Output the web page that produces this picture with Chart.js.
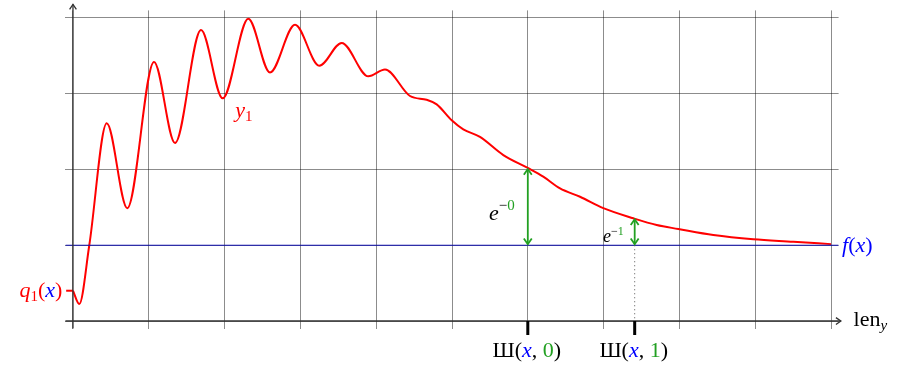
<!DOCTYPE html>
<html>
<head>
<meta charset="utf-8">
<script src="https://cdn.jsdelivr.net/npm/chart.js@4.4.1/dist/chart.umd.min.js"></script>
<style>
    html, body { margin: 0; padding: 0; background: #fff; }
    #wrap { width: 901px; height: 369px; position: relative; }
</style>
</head>
<body>
<div id="wrap"><canvas id="chart"></canvas></div>
<script>
// ════════════════════════════════════════
// DATA
// ════════════════════════════════════════

const xTicks = [0, 1, 2, 3, 4, 5, 6, 7, 8, 9, 10];
const yTicks = [0, 1, 2, 3, 4];

// y1 curve (red)
const curveX = [0, 0.083, 0.215, 0.445, 0.716, 1.069, 1.346,
    1.689, 1.975, 2.313, 2.599, 2.929, 3.249, 3.545, 3.896, 4.116, 4.446,
    4.666, 4.798, 4.996, 5.149, 5.369, 5.677, 5.999, 6.204, 6.425, 6.689,
    6.996, 7.392, 7.700, 7.985, 8.447, 8.975, 9.503, 10];
const curveY = [0.40, 0.224, 1.00, 2.61, 1.49, 3.42, 2.35,
    3.84, 2.94, 3.99, 3.28, 3.91, 3.37, 3.67, 3.23, 3.32, 2.97,
    2.92, 2.86, 2.65, 2.53, 2.43, 2.19, 2.02, 1.905, 1.75, 1.64,
    1.49, 1.356, 1.267, 1.215, 1.135, 1.079, 1.047, 1.015];

// f(x) level (blue)
const levelX = [-0.1, 10.1];
const levelY = [1, 1];

// q1(x) tick on the y axis
const qTickX = [-0.09, 0];
const qTickY = [0.40, 0.40];

// Ш(x, k) marks and the e^-k gaps
const markX = [6, 7.41];
const gapTop = [2.02, 1.356];

// ════════════════════════════════════════
// HELPERS
// ════════════════════════════════════════

const SERIF = '"Liberation Serif", "DejaVu Serif", serif';
const RED = '#ff0000';
const BLUE = '#0000ff';
const GREEN = '#22a022';
const BLACK = '#000000';

const pts = (xs, ys) => xs.map((x, i) => ({ x, y: ys[i] }));

function drawRuns(ctx, runs, x, y, align) {
    let w = 0;
    runs.forEach(r => {
        ctx.font = r.font;
        r.w = ctx.measureText(r.t).width;
        w += r.w;
    });
    let cx = align === 'center' ? x - w / 2 : align === 'right' ? x - w : x;
    runs.forEach(r => {
        ctx.font = r.font;
        ctx.fillStyle = r.color;
        ctx.fillText(r.t, cx, y + (r.dy || 0));
        cx += r.w;
    });
}

// open "to" style arrow head, tip at (x, y), pointing along angle a
function arrowHead(ctx, x, y, a, size) {
    ctx.beginPath();
    ctx.moveTo(x - size * Math.cos(a - 0.6), y - size * Math.sin(a - 0.6));
    ctx.lineTo(x, y);
    ctx.lineTo(x - size * Math.cos(a + 0.6), y - size * Math.sin(a + 0.6));
    ctx.stroke();
}

const decorations = {
    id: 'decorations',
    afterDatasetsDraw(chart) {
        const ctx = chart.ctx;
        const xs = chart.scales.x, ys = chart.scales.y;
        const px = v => xs.getPixelForValue(v);
        const py = v => ys.getPixelForValue(v);
        ctx.save();
        ctx.lineCap = 'butt';

        // axes with arrows
        ctx.strokeStyle = '#333';
        ctx.lineWidth = 1.3;
        ctx.beginPath();
        ctx.moveTo(px(-0.1), py(0));
        ctx.lineTo(px(10.13), py(0));
        ctx.moveTo(px(0), py(-0.1));
        ctx.lineTo(px(0), py(4.18));
        ctx.stroke();
        arrowHead(ctx, px(10.13), py(0), 0, 6);
        arrowHead(ctx, px(0), py(4.18), -Math.PI / 2, 6);

        // dotted drop line under the second mark
        ctx.strokeStyle = '#555';
        ctx.lineWidth = 1;
        ctx.setLineDash([1, 3]);
        ctx.beginPath();
        ctx.moveTo(px(markX[1]), py(1));
        ctx.lineTo(px(markX[1]), py(0));
        ctx.stroke();
        ctx.setLineDash([]);

        // Ш ticks below the axis
        ctx.strokeStyle = BLACK;
        ctx.lineWidth = 3;
        markX.forEach(m => {
            ctx.beginPath();
            ctx.moveTo(px(m), py(0));
            ctx.lineTo(px(m), py(0) + 14);
            ctx.stroke();
        });

        // green double arrows
        ctx.strokeStyle = GREEN;
        ctx.lineWidth = 1.8;
        markX.forEach((m, i) => {
            const x = px(m), y0 = py(1), y1 = py(gapTop[i]);
            ctx.beginPath();
            ctx.moveTo(x, y0 - 1);
            ctx.lineTo(x, y1 + 1);
            ctx.stroke();
            arrowHead(ctx, x, y0 - 1, Math.PI / 2, 7);
            arrowHead(ctx, x, y1 + 1, -Math.PI / 2, 7);
        });

        // labels
        ctx.textBaseline = 'alphabetic';
        const IT = 'italic 22px ' + SERIF;
        const RM = '22px ' + SERIF;
        const SUB = '15px ' + SERIF;

        drawRuns(ctx, [
            { t: 'y', font: IT, color: RED },
            { t: '1', font: SUB, color: RED, dy: 4 },
        ], px(2.14), py(2.69), 'left');

        drawRuns(ctx, [
            { t: 'q', font: IT, color: RED },
            { t: '1', font: SUB, color: RED, dy: 4 },
            { t: '(', font: RM, color: RED },
            { t: 'x', font: IT, color: BLUE },
            { t: ')', font: RM, color: RED },
        ], px(-0.14), py(0.40) + 6, 'right');

        drawRuns(ctx, [
            { t: 'f', font: IT, color: BLUE },
            { t: '(', font: RM, color: BLUE },
            { t: 'x', font: IT, color: BLUE },
            { t: ')', font: RM, color: BLUE },
        ], px(10.12) + 2, py(1) + 7, 'left');

        drawRuns(ctx, [
            { t: 'len', font: RM, color: BLACK },
            { t: 'y', font: 'italic 15px ' + SERIF, color: BLACK, dy: 4 },
        ], px(10.1) + 15, py(0) + 5, 'left');

        drawRuns(ctx, [
            { t: 'e', font: IT, color: BLACK },
            { t: '\u2212', font: SUB, color: BLACK, dy: -10 },
            { t: '0', font: SUB, color: GREEN, dy: -10 },
        ], px(markX[0]) - 13, py(1.38) + 4, 'right');

        drawRuns(ctx, [
            { t: 'e', font: 'italic 18px ' + SERIF, color: BLACK },
            { t: '\u2212', font: '12px ' + SERIF, color: BLACK, dy: -7 },
            { t: '1', font: '12px ' + SERIF, color: GREEN, dy: -7 },
        ], px(markX[1]) - 11, py(1.08) + 3, 'right');

        markX.forEach((m, i) => {
            drawRuns(ctx, [
                { t: '\u0428', font: RM, color: BLACK },
                { t: '(', font: RM, color: BLACK },
                { t: 'x', font: IT, color: BLUE },
                { t: ', ', font: RM, color: BLACK },
                { t: String(i), font: RM, color: GREEN },
                { t: ')', font: RM, color: BLACK },
            ], px(m) - 1, py(0) + 36, 'center');
        });

        ctx.restore();
    }
};

// ════════════════════════════════════════
// CHART
// ════════════════════════════════════════

new Chart(document.getElementById('chart'), {
    type: 'line',
    data: {
        datasets: [
            {
                data: pts(levelX, levelY),
                borderColor: '#1010b0',
                borderWidth: 1.2,
                pointRadius: 0,
                tension: 0,
            },
            {
                data: pts(curveX, curveY),
                borderColor: RED,
                borderWidth: 2,
                pointRadius: 0,
                cubicInterpolationMode: 'monotone',
            },
            {
                data: pts(qTickX, qTickY),
                borderColor: RED,
                borderWidth: 2,
                pointRadius: 0,
                tension: 0,
                clip: false,
            },
        ]
    },
    options: {
        responsive: true,
        maintainAspectRatio: false,
        animation: false,
        layout: { padding: { left: 65.4, right: 62.4, top: 10.4, bottom: 40.4 } },
        plugins: {
            legend: { display: false },
            tooltip: { enabled: false },
        },
        scales: {
            x: {
                type: 'linear',
                min: -0.1,
                max: 10.1,
                afterBuildTicks: s => { s.ticks = xTicks.map(v => ({ value: v })); },
                ticks: { display: false },
                grid: { color: 'rgba(0,0,0,0.45)', lineWidth: 1, drawTicks: false },
                border: { display: false },
            },
            y: {
                type: 'linear',
                min: -0.1,
                max: 4.1,
                afterBuildTicks: s => { s.ticks = yTicks.map(v => ({ value: v })); },
                ticks: { display: false },
                grid: { color: 'rgba(0,0,0,0.45)', lineWidth: 1, drawTicks: false },
                border: { display: false },
            }
        }
    },
    plugins: [decorations]
});
</script>
</body>
</html>
